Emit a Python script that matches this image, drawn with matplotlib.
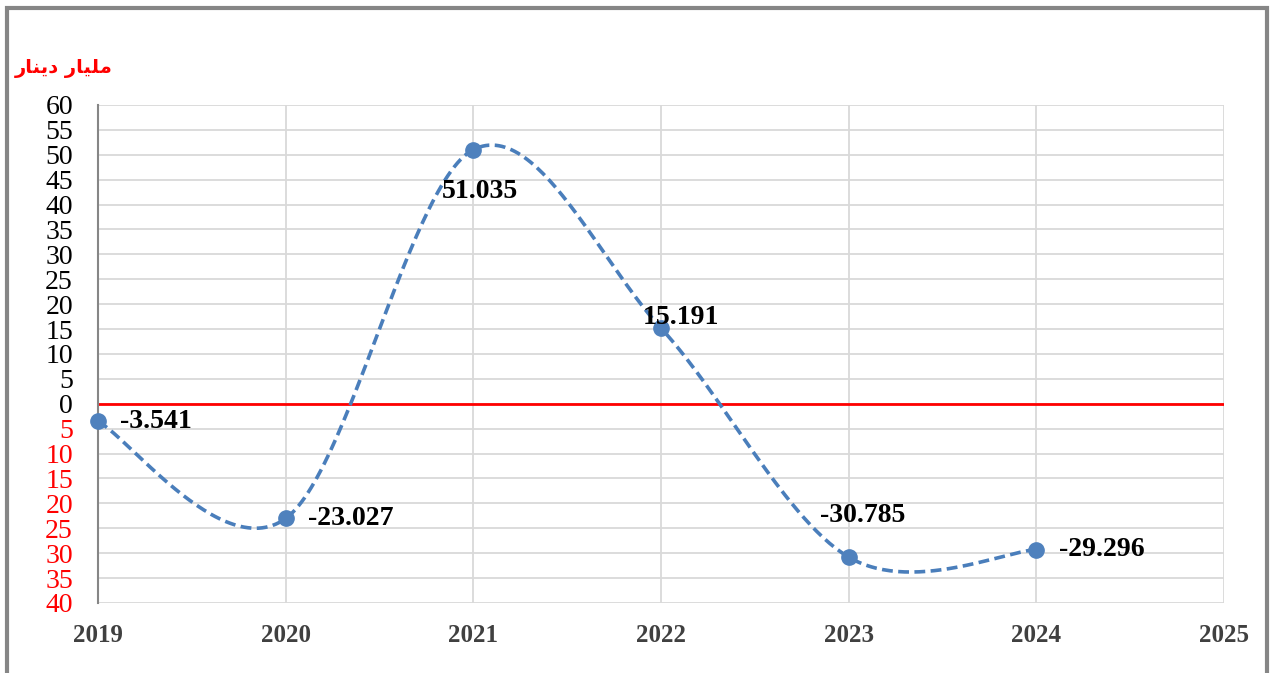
import numpy as np
import matplotlib.pyplot as plt
from matplotlib.patches import Rectangle
from matplotlib.ticker import FuncFormatter

years = [2019, 2020, 2021, 2022, 2023, 2024]
values = [-3.541, -23.027, 51.035, 15.191, -30.785, -29.296]
labels = ["-3.541", "-23.027", "51.035", "15.191", "-30.785", "-29.296"]
# label offsets in points (dx, dy) and alignment
offsets = [(16, 0), (16, 0), (5, -30), (14, 8), (10, 30), (16, 0)]
aligns = ["left", "left", "center", "center", "center", "left"]
unit_label = "\ufead\ufe8e\ufee8\ufef3\ufea9 \ufead\ufe8e\ufef4\ufee0\ufee3"  # مليار دينار (visual order)

serif = "Liberation Serif"


def catmull(xs, ys, n=60):
    # excel-like smoothed line (bezier with control points from neighbours)
    pts = np.column_stack([xs, ys]).astype(float)
    ext = np.vstack([pts[0], pts, pts[-1]])
    out = []
    t = np.linspace(0, 1, n)[:, None]
    for i in range(len(pts) - 1):
        p0, p1, p2, p3 = ext[i], ext[i + 1], ext[i + 2], ext[i + 3]
        c1 = p1 + (p2 - p0) / 6
        c2 = p2 - (p3 - p1) / 6
        seg = ((1 - t) ** 3) * p1 + 3 * ((1 - t) ** 2) * t * c1 + 3 * (1 - t) * t ** 2 * c2 + t ** 3 * p2
        out.append(seg if i == 0 else seg[1:])
    out = np.vstack(out)
    return out[:, 0], out[:, 1]


fig = plt.figure(figsize=(12.74, 6.73), dpi=100)
ax = fig.add_axes([98 / 1274, 70 / 673, 1126 / 1274, 498 / 673])

ax.set_xlim(2019, 2025)
ax.set_ylim(-40, 60)
ax.set_xticks(range(2019, 2026))
ax.set_yticks(range(-40, 61, 5))
ax.grid(True, color="#d9d9d9", linewidth=1.3)
ax.set_axisbelow(True)
for s in ["top", "right", "bottom"]:
    ax.spines[s].set_visible(False)
ax.spines["left"].set_color("#868686")
ax.spines["left"].set_linewidth(1.5)
ax.tick_params(length=0)
ax.tick_params(axis="y", pad=18)
ax.tick_params(axis="x", pad=15)

ax.yaxis.set_major_formatter(FuncFormatter(lambda v, p: "%d" % abs(v)))
for lab, v in zip(ax.get_yticklabels(), ax.get_yticks()):
    lab.set_fontfamily(serif)
    lab.set_fontsize(20)
    lab.set_color("red" if v < 0 else "black")
for lab in ax.get_xticklabels():
    lab.set_fontfamily(serif)
    lab.set_fontsize(18)
    lab.set_fontweight("bold")
    lab.set_color("#404040")

ax.axhline(0, color="#ff0000", linewidth=2, zorder=2)

sx, sy = catmull(years, values)
ax.plot(sx, sy, color="#4a7ebb", linewidth=2.6, linestyle=(0, (3, 1.5)), zorder=3)
ax.plot(years, values, "o", color="#4f81bd", markersize=11, zorder=4, clip_on=False)

for x, y, t, (dx, dy), ha in zip(years, values, labels, offsets, aligns):
    ax.annotate(t, (x, y), xytext=(dx, dy), textcoords="offset points",
                ha=ha, va="center", fontfamily=serif, fontsize=20,
                fontweight="bold", color="black", zorder=5)

fig.text(15 / 1274, 1 - 68 / 673, unit_label, color="red", fontsize=14,
         fontweight="bold", family=["DejaVu Sans"], ha="left", va="center")

fig.patches.append(Rectangle((7 / 1274, -0.05), 1260 / 1274, 1.05 - 8 / 673,
                             transform=fig.transFigure, fill=False,
                             edgecolor="#868686", linewidth=3))

fig.savefig("out.png", dpi=100)
